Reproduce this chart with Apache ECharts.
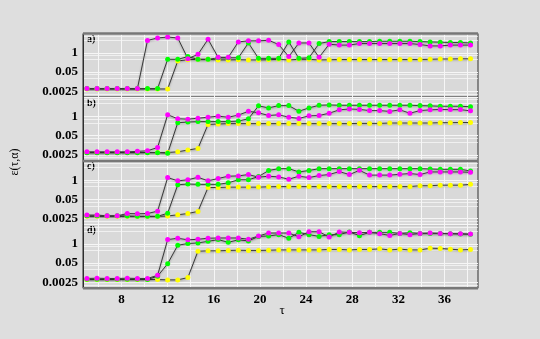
<!DOCTYPE html>
<html>
<head>
<meta charset="utf-8">
<script src="https://cdn.jsdelivr.net/npm/echarts@6/dist/echarts.min.js"></script>
<style>
html,body{margin:0;padding:0;background:#dedede;}
#main{width:540px;height:339px;}
</style>
</head>
<body>
<div id="main"></div>
<script>
// tau of each point
var TAU = [5, 5.875, 6.75, 7.625, 8.5, 9.375, 10.25, 11.125, 12, 12.875, 13.75, 14.625, 15.5,
  16.375, 17.25, 18.125, 19, 19.875, 20.75, 21.625, 22.5, 23.375, 24.25, 25.125, 26, 26.875,
  27.75, 28.625, 29.5, 30.375, 31.25, 32.125, 33, 33.875, 34.75, 35.625, 36.5, 37.375, 38.25];

var X_LABELS = [8, 12, 16, 20, 24, 28, 32, 36];
var X_GRID = [6, 8, 10, 12, 14, 16, 18, 20, 22, 24, 26, 28, 30, 32, 34, 36, 38];
var Y_LABELS = [0.0025, 0.05, 1];
var PANEL_NAMES = ['a)', 'b)', 'c)', 'd)'];

// panel a
var MAG_A = [0.0038, 0.0038, 0.0038, 0.0038, 0.0038, 0.0038, 6.8, 10, 11.5, 10, 0.4, 0.78, 8.2,
  0.49, 0.49, 5.4, 6.4, 6.4, 7.0, 3.6, 0.55, 4.6, 4.6, 0.49, 3.8, 3.3, 3.3, 4.2, 4.2, 4.2, 4.2,
  4.2, 4.2, 3.6, 2.9, 2.9, 3.3, 3.3, 3.3];
var GRN_A = [0.0038, 0.0038, 0.0038, 0.0038, 0.0038, 0.0038, 0.0038, 0.0038, 0.36, 0.36, 0.55,
  0.36, 0.36, 0.46, 0.46, 0.46, 4.6, 0.42, 0.42, 0.42, 5.4, 0.42, 0.46, 4.2, 5.7, 5.7, 5.7, 5.7,
  5.7, 6.0, 6.0, 6.0, 6.0, 5.7, 5.4, 5.2, 4.9, 4.9, 4.6];
var YEL_A = [0.0036, 0.0036, 0.0036, 0.0036, 0.0036, 0.0036, 0.0036, 0.0036, 0.0036, 0.28, 0.34,
  0.36, 0.36, 0.33, 0.33, 0.34, 0.33, 0.33, 0.34, 0.36, 0.33, 0.36, 0.36, 0.33, 0.34, 0.35, 0.35,
  0.35, 0.35, 0.35, 0.35, 0.35, 0.35, 0.35, 0.36, 0.38, 0.38, 0.39, 0.39];

// panel b
var MAG_B = [0.0041, 0.0041, 0.0041, 0.0041, 0.0041, 0.0044, 0.0048, 0.0081, 1.3, 0.70, 0.66,
  0.76, 0.89, 1.05, 0.89, 1.23, 2.25, 1.77, 1.16, 1.3, 0.89, 0.74, 1.1, 1.16, 1.66, 2.8, 3.2, 3.0,
  2.5, 2.5, 2.2, 2.8, 1.66, 2.5, 2.8, 3.0, 2.9, 2.9, 2.4];
var GRN_B = [0.0036, 0.0036, 0.0036, 0.0036, 0.0036, 0.0036, 0.0036, 0.0036, 0.0033, 0.38, 0.42,
  0.45, 0.45, 0.45, 0.45, 0.49, 0.70, 5.2, 3.8, 5.4, 5.4, 2.25, 3.8, 5.7, 6.0, 5.7, 5.7, 5.7, 5.7,
  5.7, 5.7, 5.7, 5.7, 5.4, 5.2, 4.9, 4.9, 4.9, 4.5];
var YEL_B = [0.0037, 0.0037, 0.0037, 0.0037, 0.0037, 0.0037, 0.0037, 0.0037, 0.0037, 0.0041,
  0.0054, 0.0070, 0.29, 0.31, 0.33, 0.33, 0.33, 0.33, 0.33, 0.33, 0.33, 0.33, 0.33, 0.33, 0.33,
  0.33, 0.33, 0.34, 0.34, 0.34, 0.36, 0.36, 0.36, 0.36, 0.36, 0.38, 0.38, 0.39, 0.39];

// panel c
var MAG_C = [0.0044, 0.0044, 0.0039, 0.0039, 0.0056, 0.0054, 0.0056, 0.0081, 1.5, 0.9, 1.06,
  1.57, 0.9, 1.3, 1.85, 1.94, 2.4, 1.6, 1.85, 1.66, 1.16, 1.85, 1.5, 2.05, 2.4, 3.8, 2.4, 4.6, 2.2,
  2.2, 2.2, 2.5, 2.8, 2.4, 3.6, 3.6, 3.6, 3.6, 3.4];
var GRN_C = [0.0039, 0.0039, 0.0039, 0.0039, 0.0038, 0.0036, 0.0036, 0.0036, 0.0059, 0.49, 0.55,
  0.52, 0.52, 0.52, 0.66, 1.06, 1.06, 1.75, 4.5, 6.0, 6.0, 3.6, 4.5, 6.0, 6.0, 6.0, 6.0, 6.0, 6.0,
  6.0, 6.0, 6.0, 6.0, 6.0, 5.7, 5.4, 5.4, 5.4, 4.2];
var YEL_C = [0.0036, 0.0036, 0.0036, 0.0036, 0.0036, 0.0036, 0.0036, 0.0036, 0.0038, 0.0046,
  0.0056, 0.0078, 0.32, 0.32, 0.34, 0.34, 0.34, 0.34, 0.36, 0.37, 0.37, 0.37, 0.37, 0.37, 0.37,
  0.37, 0.37, 0.37, 0.37, 0.37, 0.37, 0.37, 0.37, 0.42, 0.42, 0.46, 0.46, 0.46, 0.52];

// panel d
var MAG_D = [0.0046, 0.0048, 0.0046, 0.0046, 0.0048, 0.0046, 0.0046, 0.0075, 1.94, 2.4, 1.87,
  2.05, 2.4, 2.5, 2.5, 2.5, 2.05, 3.4, 5.4, 5.4, 5.4, 3.0, 6.6, 6.6, 2.9, 6.4, 6.0, 5.7, 6.0, 4.9,
  3.7, 5.1, 4.2, 5.1, 5.4, 5.1, 4.9, 4.9, 4.6];
var GRN_D = [0.0041, 0.0041, 0.0041, 0.0041, 0.0041, 0.0041, 0.0039, 0.0066, 0.046, 0.81, 1.05,
  1.16, 1.48, 1.94, 1.27, 1.87, 1.57, 3.2, 3.4, 4.2, 2.4, 6.0, 4.2, 3.2, 4.2, 4.2, 6.4, 3.6, 6.0,
  6.0, 6.0, 5.1, 5.7, 5.1, 5.1, 5.1, 4.9, 4.6, 4.4];
var YEL_D = [0.0039, 0.0039, 0.0039, 0.0039, 0.0039, 0.0039, 0.0039, 0.0039, 0.0037, 0.0037,
  0.0053, 0.32, 0.34, 0.34, 0.36, 0.37, 0.36, 0.36, 0.37, 0.39, 0.39, 0.39, 0.39, 0.39, 0.42, 0.42,
  0.39, 0.42, 0.42, 0.46, 0.39, 0.44, 0.39, 0.39, 0.51, 0.49, 0.44, 0.39, 0.42];

var PANELS = [
  [YEL_A, GRN_A, MAG_A],
  [YEL_B, GRN_B, MAG_B],
  [YEL_C, GRN_C, MAG_C],
  [YEL_D, GRN_D, MAG_D]
];
var COLORS = ['#ffff00', '#00ff00', '#ff00ff'];

var panelTop = [33.5, 97.2, 160.9, 224.6], panelH = 63.7;
var serif = '"Liberation Serif", "DejaVu Serif", serif';

var grids = [], xAxes = [], yAxes = [], series = [], graphics = [];

for (var p = 0; p < 4; p++) {
  grids.push({
    left: 83, right: 62, top: panelTop[p], height: panelH,
    show: true, backgroundColor: '#d9d9d9', borderColor: '#2e2e2e', borderWidth: 1
  });
  xAxes.push({
    gridIndex: p, type: 'value', min: 4.66, max: 38.9,
    axisLine: {show: false},
    axisTick: {show: false, customValues: X_GRID},
    axisLabel: {
      show: p == 3, customValues: X_LABELS, margin: 5,
      fontFamily: serif, fontWeight: 'bold', fontSize: 13, color: '#000'
    },
    splitLine: {show: true, lineStyle: {color: '#f6f6f6', width: 1}}
  });
  yAxes.push({
    gridIndex: p, type: 'log', logBase: 20, min: 0.001, max: 20,
    axisLine: {show: true, lineStyle: {color: '#2e2e2e'}},
    axisTick: {show: false},
    axisLabel: {
      margin: 5, fontFamily: serif, fontWeight: 'bold', fontSize: 13, color: '#000',
      formatter: function (v) {
        for (var k = 0; k < Y_LABELS.length; k++) {
          if (Math.abs(v / Y_LABELS[k] - 1) < 1e-3) return String(Y_LABELS[k]);
        }
        return '';
      }
    },
    splitLine: {show: true, lineStyle: {color: '#f6f6f6', width: 1}},
    minorTick: {show: false, splitNumber: 3},
    minorSplitLine: {show: true, lineStyle: {color: 'rgba(255,255,255,0.6)', width: 1}}
  });
  for (var s = 0; s < 3; s++) {
    var vals = PANELS[p][s];
    series.push({
      type: 'line', xAxisIndex: p, yAxisIndex: p,
      data: vals.map(function (v, i) { return [TAU[i], v]; }),
      symbol: 'circle', symbolSize: 5, showSymbol: true,
      lineStyle: {color: '#3a3a3a', width: 1, shadowColor: 'rgba(0,0,0,0.35)', shadowBlur: 2, shadowOffsetY: 1},
      itemStyle: {color: COLORS[s]},
      animation: false, silent: true
    });
  }
  graphics.push({
    type: 'text', left: 87, top: panelTop[p] + 1,
    style: {text: PANEL_NAMES[p], font: 'bold 10px ' + serif, fill: '#000'}
  });
}

// thick grey frame lines seen at the top, middle and bottom of the stack
[panelTop[0], panelTop[2], panelTop[3] + panelH].forEach(function (y) {
  graphics.push({
    type: 'line', shape: {x1: 83, y1: y, x2: 478, y2: y},
    style: {stroke: '#777', lineWidth: 2.5}, z: 10
  });
});

graphics.push({
  type: 'text', x: 282, y: 311, style: {text: 'τ', font: '13px ' + serif, fill: '#000', align: 'center', verticalAlign: 'middle'}
});
graphics.push({
  type: 'text', x: 15, y: 162, rotation: Math.PI / 2,
  style: {text: 'ε(τ,α)', font: '12px ' + serif, fill: '#000', align: 'center', verticalAlign: 'middle'}
});

var chart = echarts.init(document.getElementById('main'));
chart.setOption({
  backgroundColor: '#dedede',
  animation: false,
  grid: grids,
  xAxis: xAxes,
  yAxis: yAxes,
  series: series,
  graphic: graphics
});
</script>
</body>
</html>
